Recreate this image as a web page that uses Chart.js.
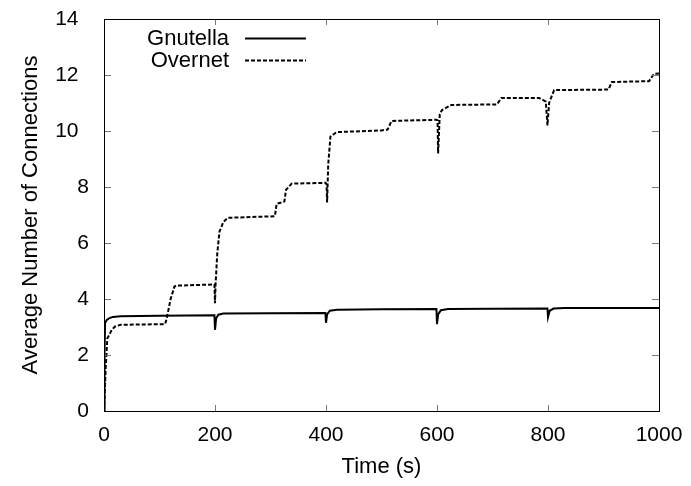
<!DOCTYPE html>
<html>
<head>
<meta charset="utf-8">
<script src="https://cdn.jsdelivr.net/npm/chart.js@4"></script>
<style>
  html, body { margin: 0; padding: 0; background: #fff; }
  #wrap { width: 691px; height: 486px; }
</style>
</head>
<body>
<div id="wrap"><canvas id="connChart" width="691" height="486"></canvas></div>
<script>
// time (s) and average number of connections
const gnutellaTime = [0, 1, 2, 5, 10, 16, 30, 100, 199, 200, 202, 206, 215, 300, 399, 400, 402, 407, 420, 500, 599, 600, 602, 607, 620, 700, 799, 800, 803, 810, 830, 1000];
const gnutellaConn = [0, 2.2, 3.15, 3.25, 3.32, 3.36, 3.38, 3.40, 3.42, 2.9, 3.3, 3.44, 3.48, 3.49, 3.50, 3.15, 3.45, 3.58, 3.62, 3.63, 3.64, 3.1, 3.45, 3.6, 3.64, 3.65, 3.66, 3.35, 3.58, 3.66, 3.68, 3.68];

const overnetTime = [0, 3, 6, 9, 14, 20, 30, 110, 113, 120, 127, 135, 199, 200, 201, 204, 208, 215, 223, 300, 308, 311, 325, 328, 338, 399, 401, 402, 404, 408, 419, 500, 511, 518, 599, 601, 602, 605, 609, 626, 708, 716, 784, 796, 799, 802, 811, 909, 915, 982, 991, 1000];
const overnetConn = [0, 1.5, 2.6, 2.7, 2.9, 3.02, 3.08, 3.1, 3.3, 4.0, 4.45, 4.48, 4.52, 3.85, 4.5, 5.6, 6.4, 6.75, 6.9, 6.95, 6.96, 7.4, 7.48, 7.9, 8.12, 8.15, 8.1, 7.45, 8.8, 9.8, 9.96, 10.02, 10.05, 10.36, 10.4, 10.38, 9.2, 10.6, 10.75, 10.93, 10.95, 11.18, 11.18, 11.05, 10.2, 11.0, 11.46, 11.48, 11.75, 11.78, 12.04, 12.05];

const xTicks = [0, 200, 400, 600, 800, 1000];
const yTicks = [0, 2, 4, 6, 8, 10, 12, 14];
const seriesNames = ['Gnutella', 'Overnet'];

const FONT = "'Liberation Sans', Arial, Helvetica, sans-serif";

function toPoints(xs, ys) {
    return xs.map((x, i) => ({ x: x, y: ys[i] }));
}

// gnuplot style box with small inward ticks on all four sides
const framePlugin = {
    id: 'frame',
    afterDatasetsDraw(chart) {
        const { ctx, chartArea: a, scales } = chart;
        ctx.save();
        ctx.strokeStyle = '#777';
        ctx.lineWidth = 1;
        ctx.beginPath();
        xTicks.forEach(v => {
            const px = Math.round(scales.x.getPixelForValue(v)) + 0.5;
            ctx.moveTo(px, a.bottom); ctx.lineTo(px, a.bottom - 6);
            ctx.moveTo(px, a.top); ctx.lineTo(px, a.top + 6);
        });
        yTicks.forEach(v => {
            const py = Math.round(scales.y.getPixelForValue(v)) + 0.5;
            ctx.moveTo(a.left, py); ctx.lineTo(a.left + 7, py);
            ctx.moveTo(a.right, py); ctx.lineTo(a.right - 7, py);
        });
        ctx.stroke();
        ctx.strokeStyle = '#000';
        ctx.strokeRect(Math.round(a.left) + 0.5, Math.round(a.top) + 0.5, Math.round(a.right - a.left), Math.round(a.bottom - a.top));
        ctx.restore();
    }
};

// key in the top left corner: right aligned names, sample line to the right
const keyPlugin = {
    id: 'key',
    afterDatasetsDraw(chart) {
        const ctx = chart.ctx;
        ctx.save();
        ctx.font = '22px ' + FONT;
        ctx.textAlign = 'right';
        ctx.textBaseline = 'middle';
        ctx.fillStyle = '#000';
        chart.data.datasets.forEach((ds, i) => {
            const y = 38 + i * 22;
            ctx.fillText(ds.label, 229, y + 1);
            ctx.beginPath();
            ctx.setLineDash(ds.borderDash || []);
            ctx.lineWidth = ds.borderWidth;
            ctx.strokeStyle = ds.borderColor;
            ctx.moveTo(245, y + 0.5);
            ctx.lineTo(306, y + 0.5);
            ctx.stroke();
        });
        ctx.restore();
    }
};

const ctx = document.getElementById('connChart').getContext('2d');
new Chart(ctx, {
    type: 'scatter',
    data: {
        datasets: [
            {
                label: seriesNames[0],
                data: toPoints(gnutellaTime, gnutellaConn),
                showLine: true,
                borderColor: '#000',
                borderWidth: 2,
                pointRadius: 0,
                tension: 0
            },
            {
                label: seriesNames[1],
                data: toPoints(overnetTime, overnetConn),
                showLine: true,
                borderColor: '#000',
                borderWidth: 2,
                borderDash: [4, 2],
                pointRadius: 0,
                tension: 0
            }
        ]
    },
    options: {
        responsive: false,
        animation: false,
        layout: { padding: { left: 0, right: 32, top: 19, bottom: 0 } },
        plugins: {
            legend: { display: false },
            tooltip: { enabled: false }
        },
        scales: {
            x: {
                type: 'linear',
                min: 0,
                max: 1000,
                afterFit: s => { s.height = 75; s.paddingLeft = 0; s.paddingRight = 0; },
                afterBuildTicks: s => { s.ticks = xTicks.map(v => ({ value: v })); },
                grid: { display: false, drawTicks: false },
                border: { display: false },
                ticks: { color: '#000', padding: 12, font: { family: FONT, size: 21 }, callback: v => '' + v },
                title: { display: true, text: 'Time (s)', color: '#000', padding: { top: 0, bottom: 6 }, font: { family: FONT, size: 22 } }
            },
            y: {
                type: 'linear',
                min: 0,
                max: 14,
                afterFit: s => { s.width = 104; s.paddingTop = 0; s.paddingBottom = 0; },
                afterBuildTicks: s => { s.ticks = yTicks.map(v => ({ value: v })); },
                grid: { display: false, drawTicks: false },
                border: { display: false },
                ticks: {
                    color: '#000',
                    padding: 15,
                    font: { family: FONT, size: 21 },
                    callback: v => v >= 10 ? v + '\u2002' : '' + v
                },
                title: { display: true, text: 'Average Number of Connections', color: '#000', padding: { top: 18, bottom: 0 }, font: { family: FONT, size: 22 } }
            }
        }
    },
    plugins: [framePlugin, keyPlugin]
});
</script>
</body>
</html>
